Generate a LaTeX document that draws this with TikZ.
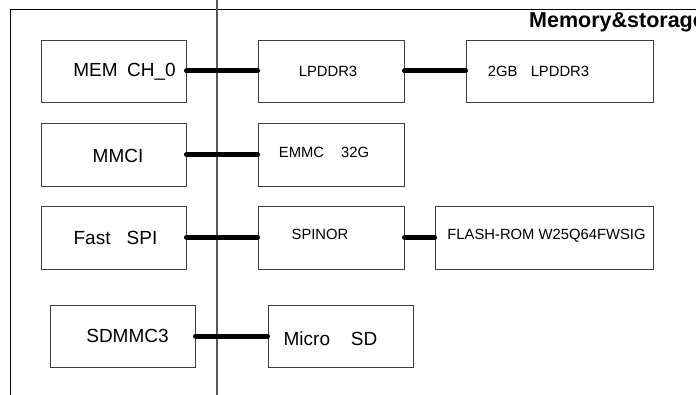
\documentclass[tikz,border=0pt]{standalone}
\usepackage{fontspec}
\setmainfont{Liberation Sans}
\usetikzlibrary{positioning, arrows.meta}

\begin{document}
\begin{tikzpicture}[x=1pt, y=-1pt, >=Latex,
        blk/.style={rectangle, draw=black!75, line width=0.9pt, minimum width=145pt, minimum height=62pt, inner sep=0pt},
        big/.style={font=\fontsize{19}{22}\selectfont},
        small/.style={font=\fontsize{14.8}{17}\selectfont},
        bus/.style={line width=5pt, line cap=round}]
            \useasboundingbox (0,0) rectangle (696,395);
            % frame and divider
            \draw[line width=0.9pt] (10,395) -- (10,9) -- (696,9);
            \draw[black!65, line width=1.4pt] (217,0) -- (217,395);
            \node[anchor=base west, inner sep=0pt, font=\fontsize{21.5}{25}\selectfont\bfseries] (title) at (529,28) {Memory\&storage};

            % SoC side
            \node[blk, label={[big, xshift=11pt, yshift=-1pt]center:MEM\hspace{0.5em}CH\_0}] (mem) at (113.5,71) {};
            \node[blk, minimum height=63pt, label={[big, xshift=4.5pt, yshift=-1pt]center:MMCI}] (mmci) at (113.5,154.5) {};
            \node[blk, minimum height=63pt, label={[big, xshift=2pt]center:Fast\hspace{0.85em}SPI}] (fspi) at (113.5,237.5) {};
            \node[blk, label={[big, xshift=5pt]center:SDMMC3}] (sdmmc) at (122.5,336) {};

            % devices
            \node[blk, minimum width=146pt, label={[small, xshift=-3pt]center:LPDDR3}] (lpddr) at (331,71) {};
            \node[blk, minimum width=146pt, minimum height=63pt, label={[small, xshift=-7pt, yshift=2pt]center:EMMC\hspace{1.15em}32G}] (emmc) at (331,154.5) {};
            \node[blk, minimum width=146pt, minimum height=63pt, label={[small, xshift=-11pt, yshift=3pt]center:SPINOR}] (spinor) at (331,237.5) {};
            \node[blk, label={[big, xshift=-10pt, yshift=-3pt]center:Micro\hspace{1.1em}SD}] (microsd) at (340.5,336) {};
            \node[blk, minimum width=187pt, label={[small, xshift=-21pt]center:2GB\hspace{0.9em}LPDDR3}] (ddr) at (559.5,71) {};
            \node[blk, minimum width=218pt, minimum height=63pt, label={[small, xshift=2.5pt, yshift=1.5pt]center:FLASH-ROM W25Q64FWSIG}] (flash) at (544,237.5) {};

            % buses
            \draw[bus] (mem) -- (lpddr);
            \draw[bus] (lpddr) -- (ddr);
            \draw[bus] (mmci) -- (emmc);
            \draw[bus] (fspi) -- (spinor);
            \draw[bus] (spinor) -- (flash);
            \draw[bus] (sdmmc) -- (microsd);
        \end{tikzpicture}
\end{document}
